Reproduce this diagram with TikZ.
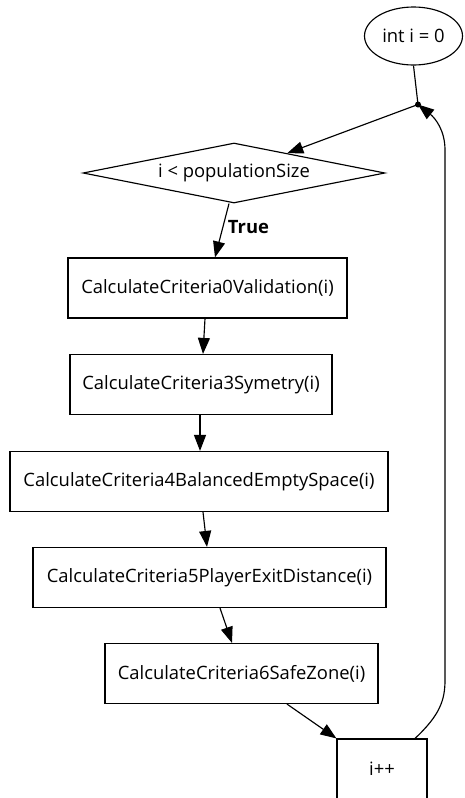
\documentclass[tikz,border=0pt]{standalone}
\usepackage{fontspec}
\setmainfont{Open Sans}
\usetikzlibrary{shapes.geometric,arrows.meta}
\tikzset{
  txt/.style={font=\fontsize{18.4}{20}\selectfont},
  flow/.style={draw=black, line width=1.15pt, txt, inner sep=0pt},
  stepbox/.style={flow, rectangle, minimum height=60pt},
  conn/.style={line width=1.15pt, -{Triangle[length=16pt,width=12pt]}},
  plain/.style={line width=1.15pt},
}
\begin{document}
\begin{tikzpicture}[x=1pt,y=-1pt]
\useasboundingbox (0,0) rectangle (464,798);

% loop head
\node[flow, ellipse, minimum width=98pt, minimum height=58pt] (init) at (413.5,36) {int i = 0};
\coordinate (j) at (418,104.5);
\fill (j) circle (3pt);
\node[flow, diamond, shape aspect=5, minimum width=302pt, minimum height=60pt] (cond) at (234,173) {i < populationSize};

% loop body
\node[stepbox, minimum width=279pt] (c0) at (207.5,288) {CalculateCriteria0Validation(i)};
\node[stepbox, minimum width=262pt] (c3) at (201,384.5) {CalculateCriteria3Symetry(i)};
\node[stepbox, minimum width=378pt] (c4) at (199,481.5) {CalculateCriteria4BalancedEmptySpace(i)};
\node[stepbox, minimum width=353pt] (c5) at (209.5,577.5) {CalculateCriteria5PlayerExitDistance(i)};
\node[stepbox, minimum width=273pt] (c6) at (241.5,673.5) {CalculateCriteria6SafeZone(i)};
\node[stepbox, minimum width=90pt] (inc) at (382,769) {i++};

% connectors
\draw[plain] (init.south) -- (j);
\draw[conn] (j) -- (cond);
\draw[conn] ([xshift=-5pt]cond.south) -- ([xshift=7.5pt]c0.north);
\node[txt, font=\fontsize{18.4}{20}\selectfont\bfseries] (lbl) at (248.5,227) {True};
\draw[conn] ([xshift=-2.5pt]c0.south) -- ([xshift=2pt]c3.north);
\draw[conn] ([xshift=-1pt]c3.south) -- ([xshift=1pt]c4.north);
\draw[conn] ([xshift=4pt]c4.south) -- ([xshift=-2.5pt]c5.north);
\draw[conn] ([xshift=10.5pt]c5.south) -- ([xshift=-9.5pt]c6.north);
\draw[conn] ([xshift=45.5pt]c6.south) -- (inc.north west);
\draw[conn] ([xshift=33pt]inc.north) .. controls (440,715) and (445,700) .. (445,680)
  -- (445,150) .. controls (445,130) and (435,118) .. (j);
\end{tikzpicture}
\end{document}
